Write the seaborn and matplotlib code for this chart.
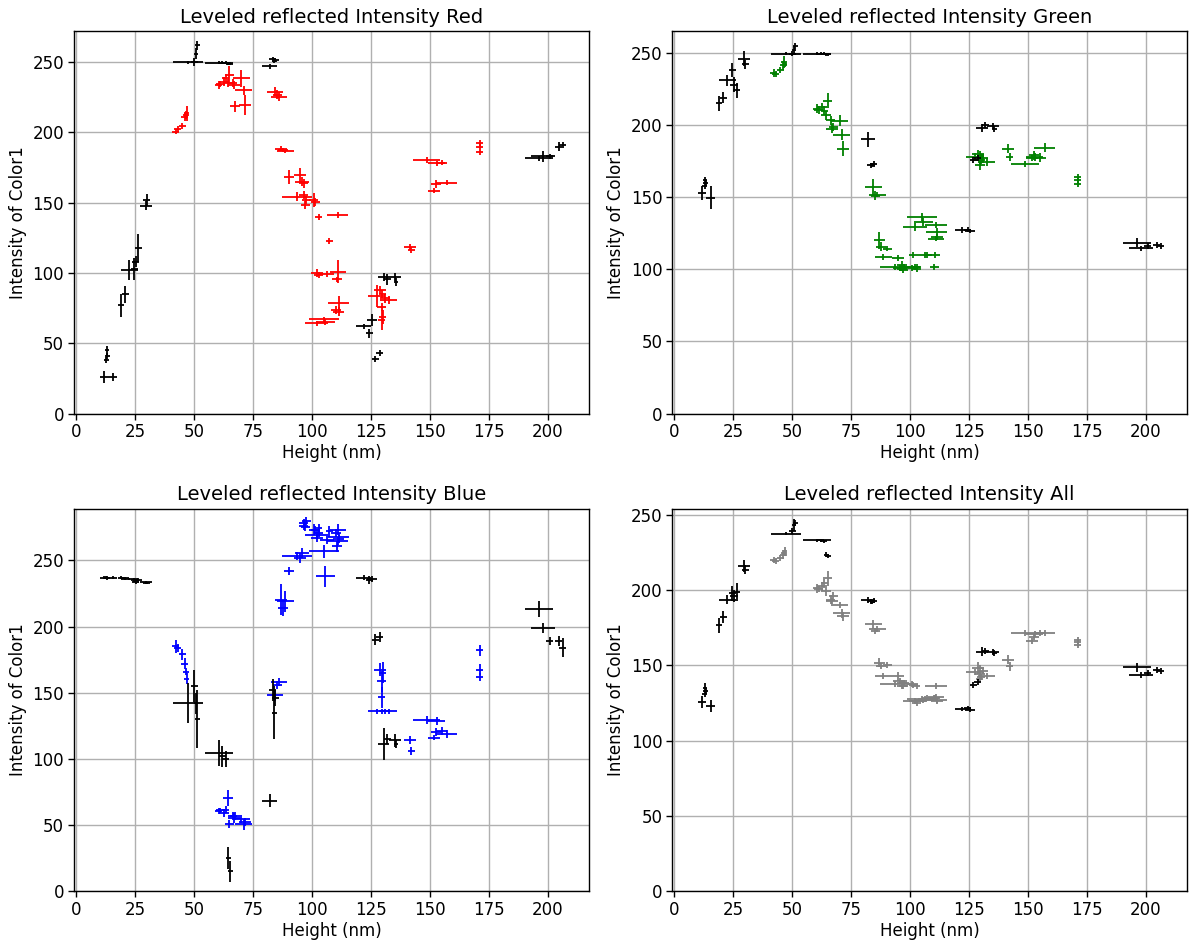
import matplotlib
matplotlib.use("Agg")
import matplotlib.pyplot as plt
import seaborn as sns
import numpy as np

# ---- heights (nm) of the reference features (black) and the flake features (coloured)
black_h = [11.8, 15.4, 13.0, 13.2, 12.8,
           18.9, 20.8, 22.5, 24.6, 25.3, 26.4, 29.5, 30.0,
           47.3, 50.0, 50.8, 51.3,
           60.6, 62.0, 63.4, 64.5, 65.3,
           82.0, 83.4, 84.5, 84.0,
           121.9, 124.4, 125.4,
           126.8, 128.7,
           130.4, 132.0, 135.3, 135.7,
           196.3, 198.0, 200.8, 204.7, 206.4]
black_h_err = [1.7, 2.0, 1.0, 1.0, 1.0,
               1.2, 1.5, 3.5, 1.5, 1.5, 1.5, 2.5, 1.5,
               6.4, 1.5, 1.0, 1.0,
               6.0, 1.5, 1.5, 1.0, 1.0,
               3.0, 1.5, 1.5, 1.0,
               3.0, 1.5, 2.0,
               1.5, 1.5,
               2.5, 1.5, 2.5, 1.0,
               6.0, 5.0, 1.5, 1.5, 1.5]

black_red = [26, 26, 45, 41, 38,
             77, 85, 102, 103, 108, 117.5, 148, 152,
             250, 250, 256, 262,
             249.5, 249.5, 249.5, 249, 249,
             247, 252, 251.5, 250.5,
             62, 57, 66.5,
             39, 43,
             97.3, 95.4, 97.3, 93.8,
             181.6, 183, 183, 190, 191]
black_red_err = [4, 3, 3, 2, 2,
                 8, 6, 7, 8, 4, 10, 3, 4,
                 1, 3, 4, 3,
                 1, 1, 1, 1, 1,
                 2, 2, 1.5, 1,
                 2, 3, 4,
                 2, 2,
                 3, 4, 3, 3,
                 2, 4, 2, 3, 2]

black_green = [152.9, 149.7, 162, 160, 158,
               215, 219, 231, 238, 228, 224, 246, 242,
               249.3, 249.5, 252, 255,
               249.5, 249.5, 249.5, 249, 249,
               190, 172, 173, 172.5,
               127, 127.5, 126.5,
               176, 177,
               198, 200, 199.5, 197,
               118.5, 114.5, 116, 117, 116]
black_green_err = [5, 8, 2, 2, 2,
                   5, 4, 4, 5, 5, 5, 5, 3,
                   1, 2, 3, 2,
                   1, 1, 1, 1, 1,
                   5, 2, 2, 1.5,
                   2, 1.5, 1.5,
                   2, 2,
                   3, 2, 2, 2,
                   3, 2, 2, 2, 2]

black_blue = [237, 237, 237, 236.5, 237,
              237, 236.5, 236, 235, 234, 235, 233.5, 233,
              142.3, 155, 142, 130,
              104.5, 102, 100, 25, 15,
              68.5, 152, 146, 135,
              237, 235, 236,
              190, 192,
              111, 115, 114, 111,
              213.5, 199, 189, 189, 184]
black_blue_err = [1, 1, 1, 1, 1,
                  1, 1, 1, 1.5, 1.5, 2, 1, 1,
                  15, 12, 8, 22,
                  10, 8, 6, 8, 8,
                  5, 8, 6, 20,
                  2, 3, 2,
                  4, 4,
                  12, 4, 5, 3,
                  6, 4, 3, 4, 7]

black_all = [125.7, 123, 135, 132.7, 131,
             176.5, 182, 193.6, 198, 196, 199, 215.7, 213.5,
             237.4, 239, 243, 244.5,
             233, 233, 232.5, 223.5, 222.5,
             193.4, 192.5, 193, 192,
             121, 121.5, 120.5,
             137, 139,
             159, 159.5, 159, 158.5,
             148.7, 143.8, 145, 147, 146.5]
black_all_err = [4, 4, 3, 2, 2,
                 5, 4, 3, 5, 4, 6, 4, 3,
                 1, 2, 4, 2,
                 1, 1, 1, 1.5, 1.5,
                 2, 1.5, 1.5, 1,
                 1.5, 1.5, 1.5,
                 2, 2,
                 3, 2, 2, 2,
                 3, 2, 2, 2, 2]

col_h = [42.2, 43.0, 45.0, 46.1, 46.6, 46.9,
         60.5, 61.2, 62.6, 63.5, 64.3, 65.0, 66.3, 67.0, 67.4, 70.1, 71.0, 71.5,
         84.4, 85.3, 86.1,
         87.0, 87.7, 88.7, 90.3,
         94.8, 95.8, 96.5, 93.6, 96.5, 97.6, 97.2, 100.7, 101.4, 102.8, 111.0, 107.3,
         102.1, 102.8, 106.4, 111.0, 110.6, 111.3, 110.3, 111.3, 105.0, 105.6, 102.0,
         127.5, 128.9, 132.5, 129.6, 129.6, 130.1, 129.8, 131.0,
         141.7, 142.2,
         148.7, 152.9, 155.0, 152.6, 157.1, 151.9,
         171.2, 171.2, 171.2]
col_h_err = [1.5, 1.5, 1.5, 1.5, 1.2, 1.0,
             1.5, 2.0, 2.0, 1.5, 2.0, 2.0, 2.0, 2.5, 2.0, 3.5, 3.5, 2.5,
             3.5, 2.0, 3.5,
             2.5, 2.0, 3.5, 2.0,
             2.5, 3.0, 2.0, 6.4, 2.0, 2.0, 2.0, 2.0, 2.0, 1.5, 4.5, 1.5,
             2.5, 2.0, 3.0, 3.5, 2.0, 4.4, 2.0, 2.5, 6.4, 4.0, 5.0,
             3.7, 2.5, 3.5, 1.5, 2.0, 1.5, 1.5, 2.0,
             2.5, 1.5,
             5.8, 3.5, 2.5, 2.0, 4.5, 2.5,
             1.5, 1.5, 1.5]

col_red = [200.6, 202.5, 204.5, 210.8, 212.4, 213.5,
           233.8, 234.5, 236.2, 238.5, 235.0, 241.0, 235.0, 233.8, 218.7, 238.5, 230.0, 219.5,
           229.1, 227.0, 225.5,
           188.5, 187.5, 187.0, 168.5,
           169.7, 165.0, 163.7, 154.3, 155.5, 152.0, 148.3, 152.0, 150.7, 140.0, 141.2, 123.0,
           100.2, 98.6, 99.3, 101.0, 95.5, 78.9, 73.7, 72.5, 67.0, 65.2, 64.2,
           83.8, 87.8, 80.7, 66.5, 76.0, 69.0, 85.0, 82.0,
           118.6, 116.3,
           180.4, 178.0, 178.5, 163.3, 164.3, 158.6,
           192.3, 190.0, 186.3]
col_red_err = [2, 2, 2, 3, 3, 5,
               3, 2, 3, 3, 3, 6, 3, 3, 4, 6, 3, 7,
               3, 3, 3,
               2, 1.5, 1.5, 5,
               5, 3, 3, 3, 3, 3, 3, 5, 3, 2, 2, 2,
               3, 2, 2, 8, 2, 5, 3, 3, 2, 2, 2,
               8, 3, 3, 7, 3, 5, 3, 3,
               2, 2,
               2, 2, 2, 3, 2, 2,
               2, 2, 2]

col_green = [236.0, 235.6, 238.3, 241.3, 243.6, 242.0,
             211.3, 210.5, 212.5, 210.0, 206.7, 217.0, 203.2, 197.5, 198.6, 203.0, 193.3, 183.6,
             156.9, 151.0, 151.8,
             120.2, 115.6, 108.7, 114.4,
             107.6, 100.7, 103.0, 101.8, 100.5, 101.5, 99.5, 100.7, 109.9, 101.8, 130.5, 109.9,
             101.8, 100.0, 109.9, 121.3, 109.9, 125.9, 101.8, 122.5, 136.2, 132.8, 129.4,
             177.8, 180.0, 174.4, 175.5, 172.0, 176.0, 179.0, 177.0,
             183.6, 177.8,
             173.2, 177.8, 177.4, 179.0, 184.3, 177.0,
             164.0, 161.7, 158.9]
col_green_err = [3, 2, 2, 3, 4, 2,
                 3, 3, 3, 3, 3, 5, 3, 3, 3, 4, 4, 5,
                 6, 3, 2,
                 6, 3, 2, 2,
                 2, 2, 3, 2, 2, 2, 2, 2, 2, 2, 2, 2,
                 2, 2, 2, 2, 2, 3, 2, 2, 3, 3, 3,
                 3, 3, 3, 3, 3, 3, 3, 3,
                 3, 3,
                 2, 3, 3, 3, 3, 2,
                 2, 2, 2]

col_blue = [185.1, 183.9, 179.0, 172.0, 166.0, 160.7,
            60.5, 61.0, 59.2, 61.7, 70.5, 50.4, 56.7, 55.4, 57.0, 54.2, 50.4, 52.0,
            148.0, 155.7, 158.2,
            220.4, 214.0, 219.0, 241.8,
            251.9, 255.7, 278.3, 253.0, 276.0, 279.6, 275.0, 273.3, 273.2, 274.6, 264.4, 271.9,
            266.9, 270.7, 265.6, 273.2, 260.6, 268.0, 270.7, 266.0, 256.8, 237.9, 269.0,
            136.0, 167.5, 136.0, 146.6, 158.7, 165.0, 136.0, 136.0,
            114.1, 105.8,
            129.7, 128.5, 120.9, 120.4, 118.9, 115.9,
            182.1, 167.5, 161.7]
col_blue_err = [5, 3, 4, 4, 3, 4,
                2, 2, 3, 3, 6, 3, 3, 4, 3, 3, 4, 3,
                4, 3, 3,
                12, 6, 8, 3,
                4, 4, 3, 3, 3, 3, 3, 4, 3, 3, 3, 4,
                3, 3, 3, 4, 4, 3, 3, 3, 5, 8, 3,
                2, 5, 2, 8, 8, 8, 2, 2,
                3, 3,
                3, 3, 3, 3, 3, 2,
                4, 4, 3]

col_all = [220.1, 219.0, 221.2, 223.5, 224.6, 225.7,
           201.3, 200.5, 202.4, 204.6, 199.1, 208.0, 193.6, 192.5, 195.8, 190.0, 184.7, 182.5,
           177.2, 172.8, 173.9,
           151.8, 149.6, 142.9, 150.0,
           142.9, 139.6, 136.3, 137.4, 138.0, 138.5, 136.0, 137.4, 136.7, 136.0, 136.3, 128.0,
           126.3, 125.2, 127.9, 129.2, 128.5, 127.0, 128.0, 126.5, 127.4, 127.0, 126.0,
           145.6, 148.5, 142.9, 140.7, 144.0, 142.5, 148.0, 146.0,
           153.7, 149.3,
           171.4, 171.0, 171.5, 168.6, 171.3, 166.0,
           167.0, 165.5, 163.7]
col_all_err = [2, 2, 2, 3, 2, 3,
               3, 2, 3, 3, 3, 5, 3, 2, 3, 2, 3, 3,
               3, 2, 2,
               3, 2, 2, 2,
               3, 2, 2, 2, 2, 2, 2, 2, 2, 2, 2, 2,
               2, 2, 2, 2, 2, 2, 2, 2, 2, 2, 2,
               2, 4, 2, 2, 2, 2, 2, 2,
               3, 3,
               2, 2, 2, 2, 2, 2,
               2, 2, 2]

channels = ["Red", "Green", "Blue", "All"]
channel_colors = ["red", "green", "blue", "gray"]
col_values = [(col_red, col_red_err), (col_green, col_green_err),
              (col_blue, col_blue_err), (col_all, col_all_err)]
black_values = [(black_red, black_red_err), (black_green, black_green_err),
                (black_blue, black_blue_err), (black_all, black_all_err)]
y_tops = [272, 265, 289, 254]

sns.set_theme(style="ticks")
plt.rcParams["font.family"] = ["DejaVu Sans"]

fig, axes = plt.subplots(2, 2, figsize=(11.92, 9.47), dpi=100)
fig.subplots_adjust(left=0.062, right=0.996, top=0.967, bottom=0.059,
                    wspace=0.161, hspace=0.249)

for ax, name, color, (cy, cyerr), (by, byerr), ytop in zip(
        axes.flat, channels, channel_colors, col_values, black_values, y_tops):
    ax.errorbar(col_h, cy, xerr=col_h_err, yerr=cyerr, fmt="none",
                ecolor=color, elinewidth=1.3, capsize=0)
    ax.errorbar(black_h, by, xerr=black_h_err, yerr=byerr, fmt="none",
                ecolor="black", elinewidth=1.3, capsize=0)
    ax.set_xlim(-1, 217.6)
    ax.set_ylim(0, ytop)
    ax.set_xticks(np.arange(0, 201, 25))
    ax.set_yticks(np.arange(0, ytop, 50))
    ax.grid(True, color="#b0b0b0", linewidth=1.0)
    ax.set_axisbelow(True)
    for sp in ax.spines.values():
        sp.set_color("black")
        sp.set_linewidth(1.0)
    ax.tick_params(axis="both", which="major", labelsize=12, color="black",
                   length=4, width=1.0, direction="out", labelcolor="black", pad=3)
    ax.set_xlabel("Height (nm)", fontsize=12, color="black", labelpad=2)
    ax.set_ylabel("Intensity of Color1", fontsize=12, color="black", labelpad=4)
    ax.set_title(f"Leveled reflected Intensity {name}", fontsize=14, color="black", pad=6)

fig.savefig("out.png", dpi=100, facecolor="white")
